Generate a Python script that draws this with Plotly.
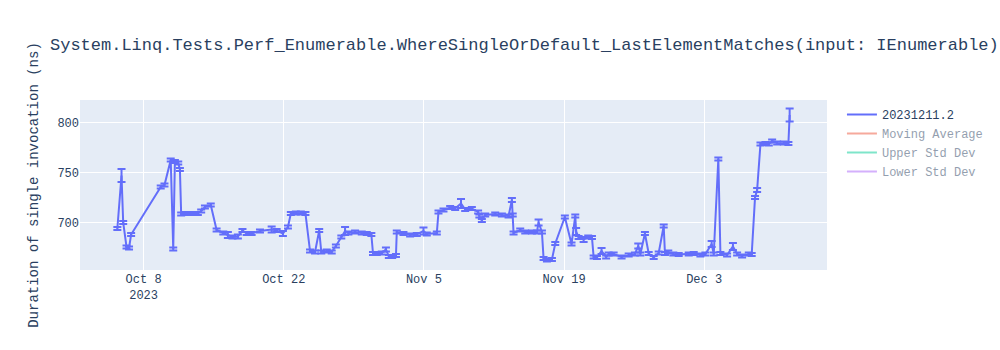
import plotly.graph_objects as go
import pandas as pd

title_text = "System.Linq.Tests.Perf_Enumerable.WhereSingleOrDefault_LastElementMatches(input: IEnumerable)"
series_name = "20231211.2"
y_title = "Duration of single invocation (ns)"

dates = [
    "2023-10-05 09:00", "2023-10-05 19:00", "2023-10-05 23:00", "2023-10-06 07:00", "2023-10-06 13:00",
    "2023-10-06 18:00", "2023-10-09 17:00", "2023-10-10 02:00", "2023-10-10 17:00", "2023-10-10 23:00",
    "2023-10-11 03:00", "2023-10-11 11:00", "2023-10-11 15:00", "2023-10-11 18:00", "2023-10-12 05:00",
    "2023-10-12 19:00", "2023-10-13 10:00", "2023-10-13 18:00", "2023-10-14 03:00", "2023-10-14 17:00",
    "2023-10-15 07:00", "2023-10-15 23:00", "2023-10-16 10:00", "2023-10-16 21:00", "2023-10-17 10:00",
    "2023-10-17 21:00", "2023-10-18 07:00", "2023-10-18 19:00", "2023-10-19 15:00", "2023-10-20 19:00",
    "2023-10-21 07:00", "2023-10-21 22:00", "2023-10-22 10:00", "2023-10-22 17:00", "2023-10-23 05:00",
    "2023-10-23 17:00", "2023-10-24 04:00", "2023-10-24 15:00", "2023-10-25 03:00", "2023-10-25 13:00",
    "2023-10-25 18:00", "2023-10-26 07:00", "2023-10-26 19:00", "2023-10-27 05:00", "2023-10-27 18:00",
    "2023-10-28 03:00", "2023-10-28 11:00", "2023-10-29 03:00", "2023-10-29 19:00", "2023-10-30 07:00",
    "2023-10-30 18:00", "2023-10-30 22:00", "2023-10-31 07:00", "2023-10-31 19:00", "2023-11-01 05:00",
    "2023-11-01 12:00", "2023-11-01 20:00", "2023-11-02 05:00", "2023-11-02 07:00", "2023-11-02 23:00",
    "2023-11-03 15:00", "2023-11-04 07:00", "2023-11-04 23:00", "2023-11-05 07:00", "2023-11-06 07:00",
    "2023-11-06 11:00", "2023-11-06 23:00", "2023-11-07 15:00", "2023-11-08 03:00", "2023-11-08 17:00",
    "2023-11-09 03:00", "2023-11-09 19:00", "2023-11-10 10:00", "2023-11-10 13:00", "2023-11-10 19:00",
    "2023-11-11 03:00", "2023-11-12 03:00", "2023-11-12 19:00", "2023-11-13 11:00", "2023-11-13 19:00",
    "2023-11-13 21:00", "2023-11-13 23:00", "2023-11-14 15:00", "2023-11-15 03:00", "2023-11-15 19:00",
    "2023-11-16 07:00", "2023-11-16 11:00", "2023-11-16 19:00", "2023-11-16 23:00", "2023-11-17 07:00",
    "2023-11-17 19:00", "2023-11-18 03:00", "2023-11-19 02:00", "2023-11-19 18:00", "2023-11-20 03:00",
    "2023-11-20 05:00", "2023-11-20 11:00", "2023-11-20 23:00", "2023-11-21 10:00", "2023-11-21 19:00",
    "2023-11-21 23:00", "2023-11-22 07:00", "2023-11-22 18:00", "2023-11-23 05:00", "2023-11-23 11:00",
    "2023-11-23 23:00", "2023-11-24 18:00", "2023-11-25 11:00", "2023-11-26 02:00", "2023-11-26 10:00",
    "2023-11-26 15:00", "2023-11-27 02:00", "2023-11-27 11:00", "2023-11-27 23:00", "2023-11-28 11:00",
    "2023-11-28 23:00", "2023-11-29 02:00", "2023-11-29 10:00", "2023-11-29 22:00", "2023-11-30 11:00",
    "2023-12-01 11:00", "2023-12-01 23:00", "2023-12-02 15:00", "2023-12-03 03:00", "2023-12-03 18:00",
    "2023-12-03 23:00", "2023-12-04 10:00", "2023-12-04 15:00", "2023-12-05 07:00", "2023-12-05 21:00",
    "2023-12-06 07:00", "2023-12-06 19:00", "2023-12-07 11:00", "2023-12-07 18:00", "2023-12-08 02:00",
    "2023-12-08 07:00", "2023-12-08 15:00", "2023-12-09 03:00", "2023-12-09 11:00", "2023-12-09 19:00",
    "2023-12-10 07:00", "2023-12-10 23:00", "2023-12-11 10:00", "2023-12-11 13:00",
]

durations = [
    694.0, 747.0, 700.0, 675.5, 674.5,
    688.0, 735.5, 737.5, 762.5, 673.5,
    761.0, 759.5, 753.0, 708.5, 709.0,
    709.0, 709.0, 711.5, 715.5, 717.5,
    692.5, 689.5, 687.5, 685.5, 686.0,
    692.0, 689.0, 689.0, 691.5, 693.0,
    692.0, 689.0, 695.5, 709.0, 709.5,
    709.5, 709.0, 671.5, 670.5, 692.0,
    670.5, 671.5, 670.5, 676.5, 685.5,
    691.5, 689.5, 690.5, 689.5, 689.0,
    688.0, 669.0, 669.0, 669.5, 673.0,
    666.0, 666.0, 667.0, 690.5, 689.0,
    687.5, 688.0, 691.5, 688.5, 689.5,
    710.5, 712.5, 715.0, 714.0, 719.0,
    713.0, 714.0, 710.5, 706.5, 702.0,
    707.5, 708.5, 707.5, 706.5, 722.5,
    707.5, 689.5, 692.5, 690.5, 690.5,
    690.5, 700.0, 690.5, 664.0, 662.5,
    663.0, 679.0, 705.5, 678.5, 706.5,
    691.0, 685.0, 683.0, 685.5, 685.0,
    665.5, 665.0, 671.5, 665.5, 668.5,
    668.5, 665.5, 667.5, 668.5, 676.5,
    668.5, 689.0, 669.0, 665.0, 669.5,
    696.5, 669.0, 670.5, 668.5, 668.0,
    668.5, 669.0, 667.5, 668.5, 678.5,
    668.5, 763.5, 669.0, 667.5, 676.0,
    668.5, 666.5, 668.5, 668.0, 725.0,
    732.5, 778.5, 779.0, 778.5, 781.5,
    779.5, 779.5, 779.0, 807.5,
]

errors = [
    1.5, 6.5, 1.5, 1.5, 1.5,
    1.5, 1.5, 1.5, 1.5, 1.5,
    1.5, 1.5, 1.5, 1.5, 1.5,
    1.5, 1.5, 1.5, 1.5, 1.5,
    1.5, 1.5, 3.0, 1.5, 2.0,
    1.5, 1.5, 1.5, 1.5, 3.0,
    1.5, 2.5, 1.5, 1.5, 1.5,
    1.5, 1.5, 1.5, 1.5, 1.5,
    1.5, 1.5, 1.5, 1.5, 1.5,
    4.0, 1.5, 1.5, 1.5, 1.5,
    1.5, 1.5, 1.5, 1.5, 2.0,
    1.5, 1.5, 1.5, 1.5, 1.5,
    1.5, 1.5, 3.5, 1.5, 1.5,
    1.5, 1.5, 1.5, 1.5, 4.5,
    1.5, 1.5, 1.5, 1.5, 1.5,
    1.5, 1.5, 1.5, 1.5, 2.0,
    1.5, 1.5, 1.5, 1.5, 1.5,
    1.5, 3.0, 1.5, 1.5, 1.5,
    1.5, 1.5, 1.5, 1.5, 1.5,
    3.5, 1.5, 2.5, 1.5, 1.5,
    1.5, 1.5, 3.0, 1.5, 1.5,
    1.5, 1.5, 1.5, 1.5, 2.5,
    1.5, 1.5, 1.5, 1.5, 1.5,
    1.5, 1.5, 1.5, 1.5, 1.5,
    1.5, 1.5, 1.5, 1.5, 3.0,
    1.5, 1.5, 1.5, 1.5, 3.5,
    1.5, 1.5, 1.5, 1.5, 1.5,
    2.0, 1.5, 1.5, 1.5, 1.5,
    1.5, 1.5, 1.5, 6.5,
]

s = pd.Series(durations)
moving_avg = s.rolling(5, min_periods=1).mean()
moving_std = s.rolling(5, min_periods=1).std().fillna(0)

font_family = "Liberation Mono, Courier New, monospace"

fig = go.Figure()
fig.add_trace(go.Scatter(
    x=pd.to_datetime(dates), y=durations, mode="lines", name=series_name,
    error_y=dict(type="data", array=errors, visible=True),
))
fig.add_trace(go.Scatter(x=pd.to_datetime(dates), y=moving_avg, mode="lines",
                         name="Moving Average", visible="legendonly"))
fig.add_trace(go.Scatter(x=pd.to_datetime(dates), y=moving_avg + moving_std, mode="lines",
                         name="Upper Std Dev", visible="legendonly"))
fig.add_trace(go.Scatter(x=pd.to_datetime(dates), y=moving_avg - moving_std, mode="lines",
                         name="Lower Std Dev", visible="legendonly"))

fig.update_layout(
    width=1000, height=350,
    title=dict(text=title_text),
    font=dict(family=font_family),
    yaxis=dict(title=dict(text=y_title)),
)

fig.write_html("out.html")
